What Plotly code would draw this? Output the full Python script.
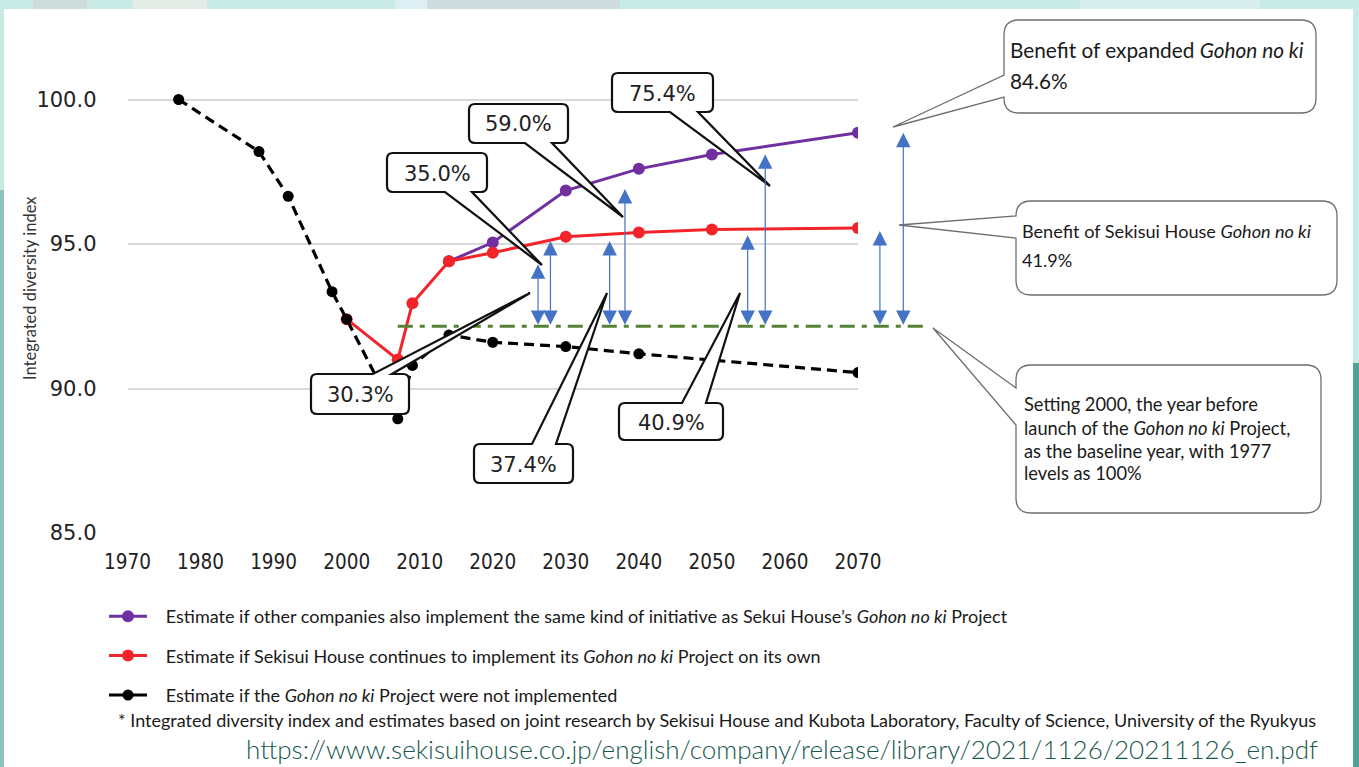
import plotly.graph_objects as go

W, H = 1359, 767

# ---------------- data ----------------
years_none = [1977, 1988, 1992, 1998, 2000, 2007, 2009, 2014, 2020, 2030, 2040, 2070]
index_none = [100.0, 98.2, 96.65, 93.35, 92.4, 88.95, 90.8, 91.85, 91.6, 91.45, 91.2, 90.55]
years_own = [2000, 2007, 2009, 2014, 2020, 2030, 2040, 2050, 2070]
index_own = [92.4, 91.0, 92.95, 94.4, 94.7, 95.25, 95.4, 95.5, 95.55]
years_all = [2014, 2020, 2030, 2040, 2050, 2070]
index_all = [94.4, 95.05, 96.85, 97.6, 98.1, 98.85]
baseline_years = [2007, 2079.5]
baseline_value = 92.15
arrow_years = [2026.2, 2027.9, 2036.0, 2038.1, 2054.9, 2057.3, 2073.0, 2076.2]
arrow_tops = [94.3, 95.1, 95.1, 96.9, 95.3, 98.1, 95.45, 98.85]
callout_labels = ["35.0%", "59.0%", "75.4%", "30.3%", "37.4%", "40.9%"]
x_ticks = list(range(1970, 2071, 10))
y_ticks = [85.0, 90.0, 95.0, 100.0]
y_tick_text = ["85.0", "90.0", "95.0", "100.0"]
legend_names = [
    "Estimate if other companies also implement the same kind of initiative as Sekui House\u2019s <i>Gohon no ki</i> Project",
    "Estimate if Sekisui House continues to implement its <i>Gohon no ki</i> Project on its own",
    "Estimate if the <i>Gohon no ki</i> Project were not implemented",
]
box_a_lines = ["Benefit of expanded <i>Gohon no ki</i>", "84.6%"]
box_b_lines = ["Benefit of Sekisui House <i>Gohon no ki</i>", "41.9%"]
box_c_lines = ["Setting 2000, the year before",
               "launch of the <i>Gohon no ki</i> Project,",
               "as the baseline year, with 1977",
               "levels as 100%"]
footnote = ("* Integrated diversity index and estimates based on joint research by Sekisui House "
            "and Kubota Laboratory, Faculty of Science, University of the Ryukyus")
url_text = "https://www.sekisuihouse.co.jp/english/company/release/library/2021/1126/20211126_en.pdf"
y_title = "Integrated diversity index"

# ---------------- layout geometry (pixels) ----------------
X0PX, X1PX = 127.5, 858.0          # 1970 .. 2070
YBOT, PX_PER_UNIT = 533.0, 28.9    # 85 at y=533
XMIN, XMAX = 1970, 2070
YMIN, YMAX = 85, 101
px_per_year = (X1PX - X0PX) / (XMAX - XMIN)
ytop_px = YBOT - (YMAX - YMIN) * PX_PER_UNIT


def px(x):
    return x / W


def py(y):
    return 1 - y / H


x_dom = [px(X0PX), px(X1PX)]
y_dom = [py(YBOT), py(ytop_px)]
x2_dom = [px(X0PX), 1.0]
x2_max = XMIN + (W - X0PX) / px_per_year

PURPLE = "#7030A0"
RED = "#F2242A"
BLACK = "#000000"
GREEN = "#548235"
BLUE = "#4472C4"

NB = "\u00a0\u00a0\u00a0"

fig = go.Figure()

fig.add_trace(go.Scatter(x=years_all, y=index_all, mode="lines+markers", name=NB + legend_names[0],
                         line=dict(color=PURPLE, width=3), marker=dict(size=12, color=PURPLE),
                         legendgroup="a", hoverinfo="skip"))
fig.add_trace(go.Scatter(x=years_own, y=index_own, mode="lines+markers", name=NB + legend_names[1],
                         line=dict(color=RED, width=3), marker=dict(size=12, color=RED),
                         legendgroup="b", hoverinfo="skip"))
fig.add_trace(go.Scatter(x=years_none, y=index_none, mode="lines+markers", name=NB + legend_names[2],
                         line=dict(color=BLACK, width=3.2, dash="10px,6px"),
                         marker=dict(size=11, color=BLACK), showlegend=False,
                         legendgroup="c", hoverinfo="skip"))
# legend entry for black series drawn with a solid line like the original key
fig.add_trace(go.Scatter(x=[None], y=[None], mode="lines+markers", name=NB + legend_names[2],
                         line=dict(color=BLACK, width=3), marker=dict(size=11, color=BLACK),
                         legendgroup="c", hoverinfo="skip"))
# baseline (overlay axes so it can run past 2070)
fig.add_trace(go.Scatter(x=baseline_years, y=[baseline_value, baseline_value], mode="lines",
                         xaxis="x2", yaxis="y2", showlegend=False, hoverinfo="skip",
                         line=dict(color=GREEN, width=3, dash="15px,7px,5px,7px")))

# ---------------- shapes ----------------
shapes = []


def rect(x0, y0, x1, y1, color):
    shapes.append(dict(type="rect", xref="paper", yref="paper", layer="below",
                       x0=px(x0), x1=px(x1), y0=py(y1), y1=py(y0),
                       fillcolor=color, line=dict(width=0)))


# slide background decoration
rect(0, 0, W, H, "#C8EAE4")
rect(33, 0, 87, 9, "#CEDCDC")
rect(133, 0, 207, 9, "#E4ECE8")
rect(395, 0, 427, 9, "#DDEFF2")
rect(427, 0, 620, 9, "#CEDCDD")
rect(1080, 0, 1260, 9, "#D8EEEE")
rect(0, 190, 4, H, "#8FC4BA")
rect(1353, 363, W, H, "#4FA096")
rect(4, 9, 1353, H, "#FFFFFF")


def callout_path(x0, y0, x1, y1, r, side, b1, b2, tip):
    def P(x, y):
        return f"{px(x):.6f},{py(y):.6f}"
    s = f"M{P(x0 + r, y0)}"
    if side == "top":
        s += f" L{P(b1, y0)} L{P(*tip)} L{P(b2, y0)}"
    s += f" L{P(x1 - r, y0)} Q{P(x1, y0)} {P(x1, y0 + r)}"
    s += f" L{P(x1, y1 - r)} Q{P(x1, y1)} {P(x1 - r, y1)}"
    if side == "bottom":
        s += f" L{P(b2, y1)} L{P(*tip)} L{P(b1, y1)}"
    s += f" L{P(x0 + r, y1)} Q{P(x0, y1)} {P(x0, y1 - r)}"
    if side == "left":
        s += f" L{P(x0, b2)} L{P(*tip)} L{P(x0, b1)}"
    s += f" L{P(x0, y0 + r)} Q{P(x0, y0)} {P(x0 + r, y0)} Z"
    return s


pct_boxes = [
    ((387, 153, 487, 192), "bottom", 445, 472, (542, 265)),
    ((469, 104, 568, 143), "bottom", 525, 552, (623, 217)),
    ((612, 73, 713, 112), "bottom", 670, 698, (770, 186)),
    ((311, 374, 409, 414), "top", 373, 392, (530, 293)),
    ((474, 444, 573, 483), "top", 532, 556, (607, 293)),
    ((619, 403, 723, 440), "top", 682, 706, (740, 293)),
]
side_boxes = [
    ((1004, 20, 1316, 113), "left", 75, 97, (893, 127)),
    ((1016, 201, 1337, 295), "left", 216, 238, (899, 225)),
    ((1016, 365, 1321, 513), "left", 388, 425, (933, 328)),
]

annotations = []

for (box, side, b1, b2, tip), label in zip(pct_boxes, callout_labels):
    shapes.append(dict(type="path", xref="paper", yref="paper", layer="above",
                       path=callout_path(*box, 6, side, b1, b2, tip),
                       fillcolor="#FFFFFF", line=dict(color="#111111", width=2.2)))
    annotations.append(dict(xref="paper", yref="paper", x=px((box[0] + box[2]) / 2),
                            y=py((box[1] + box[3]) / 2 + 1), text=label, showarrow=False,
                            xanchor="center", yanchor="middle",
                            font=dict(family="DejaVu Sans", size=21, color="#222222")))

for box, side, b1, b2, tip in side_boxes:
    shapes.append(dict(type="path", xref="paper", yref="paper", layer="above",
                       path=callout_path(*box, 15, side, b1, b2, tip),
                       fillcolor="#FFFFFF", line=dict(color="#6E6E6E", width=1.3)))


def text_line(x, y, txt, size, color="#1A1A1A", family="Lato", anchor="left",
              yanchor="middle", weight="normal"):
    annotations.append(dict(xref="paper", yref="paper", x=px(x), y=py(y), text=txt,
                            showarrow=False, xanchor=anchor, yanchor=yanchor,
                            font=dict(family=family, size=size, color=color, weight=weight)))


for txt, yy in zip(box_a_lines, [49, 80]):
    text_line(1008, yy, txt, 20.8)
for txt, yy in zip(box_b_lines, [231, 260]):
    text_line(1020, yy, txt, 18.1)
for txt, yy in zip(box_c_lines, [404, 428, 451, 473]):
    text_line(1022, yy, txt, 18.3)

# blue double-headed arrows (benefit spans)
for xa, top in zip(arrow_years, arrow_tops):
    annotations.append(dict(x=xa, y=top, ax=xa, ay=baseline_value,
                            xref="x2", yref="y2", axref="x2", ayref="y2",
                            text="", showarrow=True, arrowside="end+start",
                            arrowhead=2, startarrowhead=2, arrowsize=2.4, startarrowsize=2.4,
                            arrowwidth=1.2, arrowcolor=BLUE, standoff=0, startstandoff=0))

# y title
annotations.append(dict(xref="paper", yref="paper", x=px(30), y=py(288), text=y_title,
                        textangle=-90, showarrow=False, xanchor="center", yanchor="middle",
                        font=dict(family="Lato", size=16.5, color="#333333")))
# footnote
text_line(116, 720, footnote, 18, color="#1A1A1A")
# url (sits right at the bottom edge, as in the source slide)
text_line(244, 767, url_text, 26, color="#17584D", yanchor="bottom", weight=300)

fig.update_layout(
    width=W, height=H, autosize=False,
    margin=dict(l=0, r=0, t=0, b=0, pad=0, autoexpand=False),
    paper_bgcolor="#C8EAE4",
    plot_bgcolor="rgba(0,0,0,0)",
    shapes=shapes,
    annotations=annotations,
    showlegend=True,
    legend=dict(x=px(104), y=py(598), xanchor="left", yanchor="top",
                bgcolor="rgba(0,0,0,0)", borderwidth=0, tracegroupgap=13,
                itemwidth=38, font=dict(family="Lato", size=18, color="#1A1A1A"),
                traceorder="grouped"),
    xaxis=dict(domain=x_dom, range=[XMIN, XMAX], tickvals=x_ticks, automargin=False,
               showgrid=False, zeroline=False, showline=False, ticks="",
               ticklabelstandoff=14,
               tickfont=dict(family="DejaVu Sans Condensed, DejaVu Sans", size=20.5, color="#222222"),
               anchor="y", fixedrange=True),
    yaxis=dict(domain=y_dom, range=[YMIN, YMAX], tickvals=y_ticks, ticktext=y_tick_text,
               automargin=False,
               showgrid=True, gridcolor="#D9D9D9", gridwidth=1.6, zeroline=False,
               showline=False, ticks="", ticklabelstandoff=30,
               tickfont=dict(family="DejaVu Sans", size=21, color="#222222"),
               anchor="x", fixedrange=True),
    xaxis2=dict(domain=x2_dom, range=[XMIN, x2_max], visible=False, anchor="y2",
                automargin=False, fixedrange=True),
    yaxis2=dict(domain=y_dom, range=[YMIN, YMAX], visible=False, anchor="x2",
                automargin=False, fixedrange=True),
)

fig.write_html("out.html")
